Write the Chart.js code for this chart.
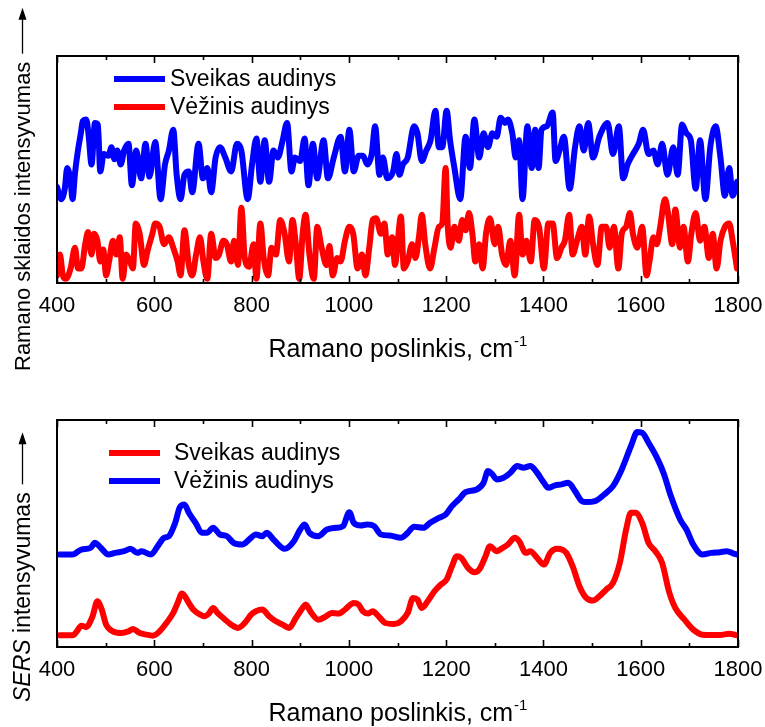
<!DOCTYPE html>
<html><head><meta charset="utf-8">
<script src="https://cdn.jsdelivr.net/npm/chart.js@4.4.1/dist/chart.umd.min.js"></script>
<style>
html,body{margin:0;padding:0;background:#fff;}
#wrap{width:765px;height:727px;position:relative;overflow:hidden;}
canvas{display:block;position:absolute;left:0;}
#c1{top:0;}
#c2{top:364px;}
</style></head><body>
<div id="wrap">
<canvas id="c1" width="765" height="380"></canvas>
<canvas id="c2" width="765" height="363"></canvas>
</div>
<script>
// ---------- DATA ----------
const xTickValues = [400, 600, 800, 1000, 1200, 1400, 1600, 1800];
const xAxisTitle = 'Ramano poslinkis, cm';
const xAxisTitleSup = '-1';
const ramanTitle = 'Ramano sklaidos intensyvumas';
const sersTitleItalic = 'SERS';
const sersTitleRest = ' intensyvumas';
const labelHealthy = 'Sveikas audinys';
const labelCancer = 'Vėžinis audinys';

// Top panel (Raman), arbitrary units
const ramanHealthyX = [400,409,416,421,428,432,437,443,449,453,460,465,471,478,484,489,496,506,512,518,524,531,538,547,554,563,573,582,590,602,613,622,630,639,646,654,662,671,678,691,700,709,717,726,735,746,758,770,779,792,801,810,818,827,836,845,854,864,873,882,889,900,909,917,926,935,948,957,969,983,992,1001,1010,1020,1029,1038,1047,1054,1063,1070,1079,1091,1098,1104,1111,1121,1134,1141,1150,1159,1168,1178,1185,1192,1201,1208,1217,1229,1240,1249,1258,1268,1277,1286,1295,1304,1312,1321,1327,1336,1343,1350,1357,1367,1376,1383,1390,1396,1407,1419,1425,1433,1442,1454,1465,1474,1483,1492,1502,1515,1532,1543,1555,1564,1573,1584,1596,1605,1616,1626,1635,1644,1655,1667,1676,1685,1694,1703,1713,1722,1733,1743,1754,1764,1773,1782,1789,1798];
const ramanHealthyY = [277,242,272,332,292,242,317,382,432,467,472,427,342,462,457,322,372,367,392,357,382,342,382,402,282,382,302,402,307,407,242,342,382,442,312,242,312,322,262,402,302,332,262,362,392,362,322,402,382,242,342,417,292,412,292,382,362,412,462,322,362,352,417,282,402,302,412,302,362,422,322,442,322,367,367,342,372,452,312,362,302,322,372,312,342,362,452,432,352,382,412,497,392,392,497,412,332,242,422,332,472,362,432,392,432,422,477,462,472,432,362,412,242,452,332,442,332,442,452,492,352,382,422,272,392,452,382,462,362,422,462,372,452,302,342,372,402,442,372,382,342,402,312,392,312,457,432,412,272,412,242,392,452,362,252,332,252,292];

const ramanCancerX = [400,406,412,418,428,437,443,450,458,464,471,476,483,489,495,501,507,515,522,529,535,542,550,556,562,570,579,586,596,602,611,620,630,639,648,654,662,671,678,686,694,701,709,717,726,733,742,749,758,764,772,779,786,795,804,810,818,825,834,841,850,859,868,877,884,891,898,905,911,919,928,935,944,954,960,967,976,983,992,1001,1009,1018,1027,1034,1042,1049,1056,1066,1073,1080,1089,1095,1100,1107,1113,1121,1130,1137,1144,1150,1157,1167,1176,1185,1192,1199,1203,1209,1217,1226,1233,1240,1247,1254,1260,1268,1275,1282,1290,1300,1307,1315,1323,1332,1341,1350,1357,1365,1374,1382,1391,1401,1410,1419,1428,1437,1444,1453,1460,1469,1479,1486,1494,1502,1511,1520,1529,1536,1545,1554,1561,1570,1578,1584,1593,1603,1612,1618,1626,1633,1640,1650,1656,1665,1671,1681,1688,1697,1704,1713,1722,1731,1740,1748,1756,1764,1773,1782,1789,1798];
const ramanCancerY = [22,82,22,12,42,102,42,42,112,147,82,142,122,62,97,22,62,122,82,132,12,82,62,42,172,142,52,92,142,172,162,112,132,102,62,22,152,52,22,82,132,62,12,142,72,82,122,112,62,122,52,217,72,47,112,12,172,72,22,102,82,182,142,62,182,112,12,142,197,82,12,162,102,52,107,22,72,62,122,162,142,42,82,22,102,182,187,142,172,82,132,52,112,192,42,62,112,72,132,197,112,42,102,162,172,332,172,102,162,122,182,152,202,142,62,112,42,142,187,112,162,82,52,122,22,197,82,122,62,182,162,42,172,172,72,102,122,197,82,122,162,82,192,112,52,162,162,102,162,42,142,162,202,142,102,162,22,62,132,112,162,242,202,112,212,102,162,62,142,202,122,162,72,142,42,122,162,172,122,42];

// Bottom panel (SERS), arbitrary units
const sersHealthyX = [405,432,441,450,460,473,483,492,501,515,533,547,556,570,584,597,611,625,639,648,657,671,680,694,703,712,721,730,744,758,772,786,799,809,822,836,850,864,877,891,905,911,923,937,951,965,978,992,1010,1020,1029,1040,1049,1061,1075,1093,1107,1121,1132,1141,1150,1162,1176,1189,1201,1212,1222,1231,1245,1258,1268,1281,1290,1304,1313,1327,1341,1350,1364,1373,1387,1401,1414,1428,1447,1460,1474,1488,1502,1515,1529,1543,1557,1570,1580,1589,1603,1616,1630,1644,1658,1671,1690,1708,1727,1745,1763,1782,1798];
const sersHealthyY = [35,35,47,64,60,92,137,112,67,47,42,47,54,42,37,34,47,72,102,132,160,132,112,97,92,100,117,102,84,67,57,72,97,107,112,92,77,67,57,87,117,127,102,82,90,102,100,112,132,127,107,100,107,92,72,69,77,102,147,142,117,137,167,187,202,242,272,267,237,224,232,272,302,287,294,307,327,317,282,287,267,247,282,294,282,242,182,147,139,152,172,192,252,352,402,402,372,312,287,252,167,117,82,52,37,36,36,40,35];

const sersCancerX = [405,432,450,469,478,487,506,519,538,551,565,574,593,607,620,630,643,652,662,671,685,698,708,721,735,749,763,781,795,809,822,831,845,868,887,900,909,919,937,955,974,988,1001,1010,1024,1038,1052,1066,1084,1107,1121,1134,1153,1167,1185,1199,1212,1226,1240,1263,1277,1286,1295,1304,1318,1332,1346,1359,1373,1387,1401,1410,1424,1437,1451,1465,1479,1488,1506,1525,1543,1561,1580,1593,1603,1616,1635,1648,1662,1681,1694,1708,1727,1745,1763,1777,1791,1798];
const sersCancerY = [277,277,292,297,312,302,277,282,287,294,282,287,277,302,327,332,372,417,427,402,372,342,342,357,337,332,312,307,322,337,332,342,322,294,317,352,367,342,332,352,357,362,404,372,364,367,362,337,334,327,342,360,357,372,387,397,422,442,464,472,492,527,517,502,507,522,542,537,542,522,492,477,484,487,492,467,437,434,437,457,482,532,602,644,642,612,562,517,452,382,352,307,277,282,284,287,280,277];

// ---------- RENDERING ----------
const FAMILY = '"Liberation Sans", Arial, Helvetica, sans-serif';
const BLUE = '#0000ff', RED = '#ff0000';

function xy(xs, ys) { return xs.map((v, i) => ({ x: v, y: ys[i] })); }

const decoPlugin = {
  id: 'deco',
  afterDraw(chart, args, o) {
    const ctx = chart.ctx, a = chart.chartArea, xs = chart.scales.x;
    ctx.save();
    // ticks (inside, top & bottom)
    ctx.strokeStyle = '#000'; ctx.lineWidth = 1.6;
    for (let v = 400; v <= 1800; v += 100) {
      const px = Math.round(xs.getPixelForValue(v)) + 0.5;
      const len = (v % 200 === 0) ? 7 : 4;
      ctx.beginPath();
      ctx.moveTo(px, a.bottom); ctx.lineTo(px, a.bottom - len);
      ctx.moveTo(px, a.top); ctx.lineTo(px, a.top + len);
      ctx.stroke();
    }
    // frame
    ctx.lineWidth = 2;
    ctx.strokeRect(a.left, a.top, a.right - a.left, a.bottom - a.top);

    // legend
    ctx.font = '23px ' + FAMILY;
    ctx.textBaseline = 'middle'; ctx.textAlign = 'left'; ctx.fillStyle = '#000';
    chart.data.datasets.forEach((ds, i) => {
      const y = o.legendY[i];
      ctx.strokeStyle = ds.borderColor; ctx.lineWidth = 6; ctx.lineCap = 'butt';
      ctx.beginPath(); ctx.moveTo(o.legendX0, y); ctx.lineTo(o.legendX1, y); ctx.stroke();
      ctx.fillText(ds.label, o.legendTextX, y + 1);
    });

    // x title with superscript
    ctx.font = '25px ' + FAMILY;
    const w1 = ctx.measureText(xAxisTitle).width;
    ctx.font = '15px ' + FAMILY;
    const w2 = ctx.measureText(xAxisTitleSup).width;
    const cx = (a.left + a.right) / 2;
    const x0 = cx - (w1 + w2) / 2;
    const by = a.bottom + o.xTitleBase;
    ctx.textBaseline = 'alphabetic';
    ctx.font = '25px ' + FAMILY; ctx.fillText(xAxisTitle, x0, by);
    ctx.font = '15px ' + FAMILY; ctx.fillText(xAxisTitleSup, x0 + w1 + 1, by - 11);

    // y title (rotated) with arrow
    ctx.translate(o.yTitleX, o.yTitleStart);
    ctx.rotate(-Math.PI / 2);
    let p = 0;
    o.yParts.forEach(part => {
      ctx.font = (part.italic ? 'italic ' : '') + o.yFont + 'px ' + FAMILY;
      ctx.fillText(part.text, p, 0);
      p += ctx.measureText(part.text).width;
    });
    const a0 = p + 8, a1 = a0 + o.arrowLen;
    ctx.strokeStyle = '#000'; ctx.lineWidth = 1.3;
    ctx.beginPath(); ctx.moveTo(a0, -7.5); ctx.lineTo(a1 - 10, -7.5); ctx.stroke();
    ctx.beginPath(); ctx.moveTo(a1, -7.5); ctx.lineTo(a1 - 12, -11.5); ctx.lineTo(a1 - 12, -3.5); ctx.closePath();
    ctx.fillStyle = '#000'; ctx.fill();
    ctx.restore();
  }
};

function makeChart(id, series, yMax, bottomH, deco) {
  return new Chart(document.getElementById(id), {
    type: 'line',
    data: {
      datasets: series.map(s => ({
        label: s.label, data: s.data, borderColor: s.color, backgroundColor: s.color,
        borderWidth: 6, pointRadius: 0, fill: false, cubicInterpolationMode: 'monotone',
        borderJoinStyle: 'round', borderCapStyle: 'round'
      }))
    },
    options: {
      responsive: false, animation: false, devicePixelRatio: 1,
      layout: { padding: { left: 57, right: 27, top: 56, bottom: 0 } },
      scales: {
        x: {
          type: 'linear', min: 400, max: 1800,
          afterBuildTicks: ax => { ax.ticks = xTickValues.map(v => ({ value: v })); },
          ticks: { font: { family: FAMILY, size: 22 }, color: '#000', padding: 10, maxRotation: 0, autoSkip: false,
                   callback: v => String(v) },
          grid: { display: false, drawTicks: false }, border: { display: false },
          afterFit: s => { s.height = bottomH; s.paddingLeft = 0; s.paddingRight = 0; }
        },
        y: { display: false, min: 0, max: yMax }
      },
      plugins: { legend: { display: false }, tooltip: { enabled: false }, deco: deco }
    },
    plugins: [decoPlugin]
  });
}

makeChart('c1', [
  { label: labelHealthy, color: BLUE, data: xy(ramanHealthyX, ramanHealthyY) },
  { label: labelCancer, color: RED, data: xy(ramanCancerX, ramanCancerY) }
], 655, 97, {
  legendY: [79, 107], legendX0: 114, legendX1: 165, legendTextX: 170,
  xTitleBase: 74, yTitleX: 30, yTitleStart: 371, arrowLen: 46, yFont: 22,
  yParts: [{ text: ramanTitle }]
});

makeChart('c2', [
  { label: labelHealthy, color: RED, data: xy(sersHealthyX, sersHealthyY) },
  { label: labelCancer, color: BLUE, data: xy(sersCancerX, sersCancerY) }
], 680, 80, {
  legendY: [89, 117], legendX0: 109, legendX1: 160, legendTextX: 174,
  xTitleBase: 74, yTitleX: 30, yTitleStart: 338, arrowLen: 52, yFont: 23,
  yParts: [{ text: sersTitleItalic, italic: true }, { text: sersTitleRest }]
});
</script>
</body></html>
